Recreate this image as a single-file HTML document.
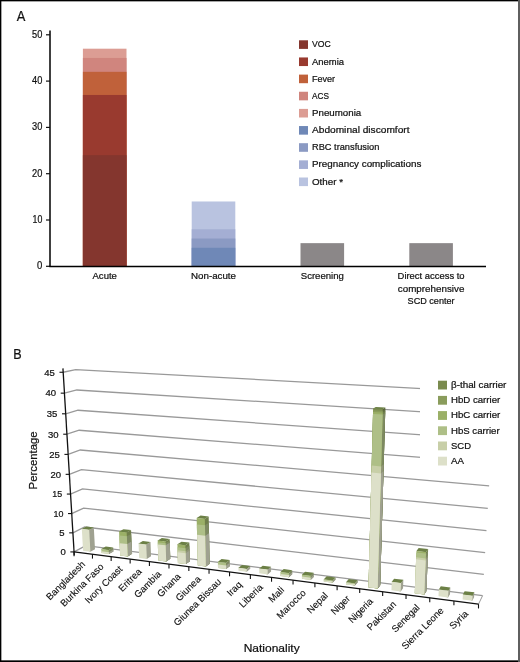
<!DOCTYPE html>
<html><head><meta charset="utf-8"><style>
html,body{margin:0;padding:0;background:#fff;}
#w{position:relative;width:520px;height:662px;overflow:hidden;background:#fff;}
svg{position:absolute;left:0;top:0;will-change:transform;}
</style></head><body><div id="w">
<svg width="520" height="662" viewBox="0 0 520 662">
<text x="16.8" y="21.1" font-size="14.3" font-family="Liberation Sans, sans-serif" stroke="#111" stroke-width="0.22" fill="#111" textLength="8.6" lengthAdjust="spacingAndGlyphs">A</text>
<line x1="50" y1="30.5" x2="50" y2="266.3" stroke="#000" stroke-width="1.5"/>
<line x1="46" y1="266.30" x2="50" y2="266.30" stroke="#111" stroke-width="1.2"/>
<text x="42.4" y="269.35" font-size="10.2" font-family="Liberation Sans, sans-serif" stroke="#111" stroke-width="0.22" fill="#111" text-anchor="end" textLength="5.3" lengthAdjust="spacingAndGlyphs">0</text>
<line x1="46" y1="220.00" x2="50" y2="220.00" stroke="#111" stroke-width="1.2"/>
<text x="42.4" y="223.05" font-size="10.2" font-family="Liberation Sans, sans-serif" stroke="#111" stroke-width="0.22" fill="#111" text-anchor="end" textLength="9.8" lengthAdjust="spacingAndGlyphs">10</text>
<line x1="46" y1="173.70" x2="50" y2="173.70" stroke="#111" stroke-width="1.2"/>
<text x="42.4" y="176.75" font-size="10.2" font-family="Liberation Sans, sans-serif" stroke="#111" stroke-width="0.22" fill="#111" text-anchor="end" textLength="10.3" lengthAdjust="spacingAndGlyphs">20</text>
<line x1="46" y1="127.40" x2="50" y2="127.40" stroke="#111" stroke-width="1.2"/>
<text x="42.4" y="130.45" font-size="10.2" font-family="Liberation Sans, sans-serif" stroke="#111" stroke-width="0.22" fill="#111" text-anchor="end" textLength="10.3" lengthAdjust="spacingAndGlyphs">30</text>
<line x1="46" y1="81.10" x2="50" y2="81.10" stroke="#111" stroke-width="1.2"/>
<text x="42.4" y="84.15" font-size="10.2" font-family="Liberation Sans, sans-serif" stroke="#111" stroke-width="0.22" fill="#111" text-anchor="end" textLength="10.3" lengthAdjust="spacingAndGlyphs">40</text>
<line x1="46" y1="34.80" x2="50" y2="34.80" stroke="#111" stroke-width="1.2"/>
<text x="42.4" y="37.85" font-size="10.2" font-family="Liberation Sans, sans-serif" stroke="#111" stroke-width="0.22" fill="#111" text-anchor="end" textLength="10.3" lengthAdjust="spacingAndGlyphs">50</text>
<rect x="82.90" y="48.69" width="43.6" height="217.61" fill="#dc9d94"/>
<rect x="82.90" y="57.95" width="43.6" height="208.35" fill="#d0857e"/>
<rect x="82.90" y="71.84" width="43.6" height="194.46" fill="#c0613a"/>
<rect x="82.90" y="94.99" width="43.6" height="171.31" fill="#993a2f"/>
<rect x="82.90" y="155.18" width="43.6" height="111.12" fill="#84362e"/>
<rect x="191.70" y="201.48" width="43.6" height="64.82" fill="#b9c3e0"/>
<rect x="191.70" y="229.26" width="43.6" height="37.04" fill="#a4aed3"/>
<rect x="191.70" y="238.52" width="43.6" height="27.78" fill="#8b9ac3"/>
<rect x="191.70" y="247.78" width="43.6" height="18.52" fill="#6f88b7"/>
<rect x="300.50" y="243.15" width="43.6" height="23.15" fill="#8b8788"/>
<rect x="409.30" y="243.15" width="43.6" height="23.15" fill="#8b8788"/>
<line x1="49.3" y1="266.40000000000003" x2="486" y2="266.40000000000003" stroke="#000" stroke-width="1.5"/>
<text x="104.70" y="279.45" font-size="9.5" font-family="Liberation Sans, sans-serif" stroke="#111" stroke-width="0.22" fill="#111" text-anchor="middle" textLength="24.4" lengthAdjust="spacingAndGlyphs">Acute</text>
<text x="213.50" y="279.45" font-size="9.5" font-family="Liberation Sans, sans-serif" stroke="#111" stroke-width="0.22" fill="#111" text-anchor="middle" textLength="45" lengthAdjust="spacingAndGlyphs">Non-acute</text>
<text x="322.30" y="279.45" font-size="9.5" font-family="Liberation Sans, sans-serif" stroke="#111" stroke-width="0.22" fill="#111" text-anchor="middle" textLength="43.1" lengthAdjust="spacingAndGlyphs">Screening</text>
<text x="431.10" y="279.45" font-size="9.5" font-family="Liberation Sans, sans-serif" stroke="#111" stroke-width="0.22" fill="#111" text-anchor="middle" textLength="67" lengthAdjust="spacingAndGlyphs">Direct access to</text>
<text x="431.10" y="291.95" font-size="9.5" font-family="Liberation Sans, sans-serif" stroke="#111" stroke-width="0.22" fill="#111" text-anchor="middle" textLength="66.5" lengthAdjust="spacingAndGlyphs">comprehensive</text>
<text x="431.10" y="304.45" font-size="9.5" font-family="Liberation Sans, sans-serif" stroke="#111" stroke-width="0.22" fill="#111" text-anchor="middle" textLength="47" lengthAdjust="spacingAndGlyphs">SCD center</text>
<rect x="299" y="40.30" width="9" height="8.6" fill="#84362e"/>
<text x="312" y="47.40" font-size="9.5" font-family="Liberation Sans, sans-serif" stroke="#111" stroke-width="0.22" fill="#111" textLength="18.7" lengthAdjust="spacingAndGlyphs">VOC</text>
<rect x="299" y="57.45" width="9" height="8.6" fill="#993a2f"/>
<text x="312" y="64.55" font-size="9.5" font-family="Liberation Sans, sans-serif" stroke="#111" stroke-width="0.22" fill="#111" textLength="32" lengthAdjust="spacingAndGlyphs">Anemia</text>
<rect x="299" y="74.60" width="9" height="8.6" fill="#c0613a"/>
<text x="312" y="81.70" font-size="9.5" font-family="Liberation Sans, sans-serif" stroke="#111" stroke-width="0.22" fill="#111" textLength="23.1" lengthAdjust="spacingAndGlyphs">Fever</text>
<rect x="299" y="91.75" width="9" height="8.6" fill="#d0857e"/>
<text x="312" y="98.85" font-size="9.5" font-family="Liberation Sans, sans-serif" stroke="#111" stroke-width="0.22" fill="#111" textLength="16.9" lengthAdjust="spacingAndGlyphs">ACS</text>
<rect x="299" y="108.90" width="9" height="8.6" fill="#dc9d94"/>
<text x="312" y="116.00" font-size="9.5" font-family="Liberation Sans, sans-serif" stroke="#111" stroke-width="0.22" fill="#111" textLength="49.2" lengthAdjust="spacingAndGlyphs">Pneumonia</text>
<rect x="299" y="126.05" width="9" height="8.6" fill="#6f88b7"/>
<text x="312" y="133.15" font-size="9.5" font-family="Liberation Sans, sans-serif" stroke="#111" stroke-width="0.22" fill="#111" textLength="97.5" lengthAdjust="spacingAndGlyphs">Abdominal discomfort</text>
<rect x="299" y="143.20" width="9" height="8.6" fill="#8b9ac3"/>
<text x="312" y="150.30" font-size="9.5" font-family="Liberation Sans, sans-serif" stroke="#111" stroke-width="0.22" fill="#111" textLength="67.3" lengthAdjust="spacingAndGlyphs">RBC transfusion</text>
<rect x="299" y="160.35" width="9" height="8.6" fill="#a4aed3"/>
<text x="312" y="167.45" font-size="9.5" font-family="Liberation Sans, sans-serif" stroke="#111" stroke-width="0.22" fill="#111" textLength="109.3" lengthAdjust="spacingAndGlyphs">Pregnancy complications</text>
<rect x="299" y="177.50" width="9" height="8.6" fill="#b9c3e0"/>
<text x="312" y="184.60" font-size="9.5" font-family="Liberation Sans, sans-serif" stroke="#111" stroke-width="0.22" fill="#111" textLength="31" lengthAdjust="spacingAndGlyphs">Other *</text>
<text x="13.2" y="358.7" font-size="13.8" font-family="Liberation Sans, sans-serif" stroke="#111" stroke-width="0.22" fill="#111" textLength="8.4" lengthAdjust="spacingAndGlyphs">B</text>
<polyline points="74.05,551.92 85.74,545.69 482.58,595.70" fill="none" stroke="#999999" stroke-width="1.3"/>
<polyline points="72.89,532.85 84.67,526.98 483.86,574.28" fill="none" stroke="#999999" stroke-width="1.3"/>
<polyline points="71.72,513.56 83.59,508.05 485.15,552.58" fill="none" stroke="#999999" stroke-width="1.3"/>
<polyline points="70.54,494.06 82.50,488.92 486.46,530.60" fill="none" stroke="#999999" stroke-width="1.3"/>
<polyline points="69.35,474.34 81.39,469.57 487.79,508.34" fill="none" stroke="#999999" stroke-width="1.3"/>
<polyline points="68.14,454.39 80.27,450.01 489.14,485.79" fill="none" stroke="#999999" stroke-width="1.3"/>
<polyline points="66.91,434.21 79.14,430.23 490.50,462.94" fill="none" stroke="#999999" stroke-width="1.3"/>
<polyline points="65.68,413.80 78.00,410.23 491.89,439.79" fill="none" stroke="#999999" stroke-width="1.3"/>
<polyline points="64.42,393.15 76.85,389.99 493.29,416.33" fill="none" stroke="#999999" stroke-width="1.3"/>
<polyline points="63.16,372.26 75.68,369.53 494.70,392.56" fill="none" stroke="#999999" stroke-width="1.3"/>
<line x1="478.50" y1="604.16" x2="482.58" y2="595.70" stroke="#999999" stroke-width="1"/>
<rect x="420" y="372" width="95" height="100" fill="#fff"/>
<polygon points="89.31,551.53 90.41,551.67 95.00,549.15 93.82,527.38 89.18,529.74 88.07,529.61" fill="#9fa190"/>
<polygon points="81.82,529.05 89.19,529.93 89.18,529.74 93.82,527.38 86.49,526.52 81.81,528.86" fill="#6c8046"/>
<polygon points="83.08,550.73 90.41,551.67 89.18,529.74 81.81,528.86" fill="#dde0c9"/>
<polygon points="107.81,553.90 108.93,554.04 113.41,551.49 113.21,547.51 108.73,550.03 107.61,549.89" fill="#7d8961"/>
<polygon points="107.81,553.90 108.93,554.04 113.41,551.49 113.31,549.59 108.83,552.13 107.71,551.99" fill="#9fa190"/>
<polygon points="101.29,549.28 108.74,550.22 108.73,550.03 113.21,547.51 105.81,546.58 101.28,549.09" fill="#6c8046"/>
<polygon points="101.49,553.09 108.93,554.04 108.73,550.03 101.28,549.09" fill="#aebf87"/>
<polygon points="101.49,553.09 108.93,554.04 108.83,552.13 101.39,551.18" fill="#dde0c9"/>
<polygon points="126.59,556.31 127.73,556.45 132.08,553.86 131.04,530.06 126.65,532.47 125.51,532.33" fill="#6f7e4a"/>
<polygon points="126.59,556.31 127.73,556.45 132.08,553.86 131.21,533.92 126.83,536.36 125.68,536.22" fill="#7d8961"/>
<polygon points="126.59,556.31 127.73,556.45 132.08,553.86 131.55,541.61 127.18,544.12 126.04,543.97" fill="#9fa190"/>
<polygon points="119.06,531.76 126.66,532.66 126.65,532.47 131.04,530.06 123.49,529.17 119.05,531.57" fill="#6c8046"/>
<polygon points="120.18,555.48 127.73,556.45 126.65,532.47 119.05,531.57" fill="#9bb067"/>
<polygon points="120.18,555.48 127.73,556.45 126.83,536.36 119.23,535.45" fill="#aebf87"/>
<polygon points="120.18,555.48 127.73,556.45 127.18,544.12 119.60,543.18" fill="#dde0c9"/>
<polygon points="145.66,558.75 146.82,558.90 151.04,556.26 150.50,542.00 146.25,544.53 145.09,544.39" fill="#9fa190"/>
<polygon points="138.56,543.78 146.26,544.72 146.25,544.53 150.50,542.00 142.85,541.08 138.55,543.58" fill="#6c8046"/>
<polygon points="139.15,557.92 146.82,558.90 146.25,544.53 138.55,543.58" fill="#dde0c9"/>
<polygon points="165.02,561.23 166.20,561.38 170.29,558.71 169.65,538.88 165.52,541.40 164.34,541.26" fill="#6f7e4a"/>
<polygon points="165.02,561.23 166.20,561.38 170.29,558.71 169.71,540.84 165.59,543.37 164.41,543.23" fill="#7d8961"/>
<polygon points="165.02,561.23 166.20,561.38 170.29,558.71 169.77,542.79 165.65,545.34 164.48,545.20" fill="#9fa190"/>
<polygon points="157.70,540.66 165.53,541.60 165.52,541.40 169.65,538.88 161.87,537.96 157.69,540.46" fill="#6c8046"/>
<polygon points="158.41,560.38 166.20,561.38 165.52,541.40 157.69,540.46" fill="#9bb067"/>
<polygon points="158.41,560.38 166.20,561.38 165.59,543.37 157.76,542.43" fill="#aebf87"/>
<polygon points="158.41,560.38 166.20,561.38 165.65,545.34 157.83,544.39" fill="#dde0c9"/>
<polygon points="184.68,563.75 185.87,563.91 189.83,561.19 189.33,542.60 185.35,545.18 184.15,545.03" fill="#6f7e4a"/>
<polygon points="184.68,563.75 185.87,563.91 189.83,561.19 189.41,545.55 185.43,548.15 184.24,548.00" fill="#7d8961"/>
<polygon points="184.68,563.75 185.87,563.91 189.83,561.19 189.50,548.69 185.52,551.31 184.33,551.16" fill="#909578"/>
<polygon points="184.68,563.75 185.87,563.91 189.83,561.19 189.55,550.65 185.58,553.28 184.38,553.14" fill="#9fa190"/>
<polygon points="177.41,544.41 185.35,545.37 185.35,545.18 189.33,542.60 181.44,541.66 177.40,544.21" fill="#6c8046"/>
<polygon points="177.97,562.89 185.87,563.91 185.35,545.18 177.40,544.21" fill="#9bb067"/>
<polygon points="177.97,562.89 185.87,563.91 185.43,548.15 177.49,547.18" fill="#aebf87"/>
<polygon points="177.97,562.89 185.87,563.91 185.52,551.31 177.58,550.33" fill="#c8cfa8"/>
<polygon points="177.97,562.89 185.87,563.91 185.58,553.28 177.64,552.30" fill="#dde0c9"/>
<polygon points="204.65,566.31 205.86,566.47 209.68,563.71 208.68,516.43 204.80,518.81 203.58,518.68" fill="#6f7e4a"/>
<polygon points="204.65,566.31 205.86,566.47 209.68,563.71 208.82,522.86 204.94,525.30 203.72,525.16" fill="#7d8961"/>
<polygon points="204.65,566.31 205.86,566.47 209.68,563.71 209.04,533.26 205.18,535.78 203.96,535.64" fill="#9fa190"/>
<polygon points="196.67,518.12 204.81,519.02 204.80,518.81 208.68,516.43 200.60,515.55 196.66,517.92" fill="#6c8046"/>
<polygon points="197.83,565.44 205.86,566.47 204.80,518.81 196.66,517.92" fill="#9bb067"/>
<polygon points="197.83,565.44 205.86,566.47 204.94,525.30 196.82,524.39" fill="#aebf87"/>
<polygon points="197.83,565.44 205.86,566.47 205.18,535.78 197.08,534.84" fill="#dde0c9"/>
<polygon points="224.93,568.91 226.15,569.07 229.83,566.27 229.73,559.94 226.05,562.69 224.82,562.54" fill="#7d8961"/>
<polygon points="224.93,568.91 226.15,569.07 229.83,566.27 229.77,562.71 226.09,565.49 224.87,565.33" fill="#9fa190"/>
<polygon points="217.88,561.87 226.05,562.89 226.05,562.69 229.73,559.94 221.62,558.93 217.88,561.67" fill="#6c8046"/>
<polygon points="218.00,568.02 226.15,569.07 226.05,562.69 217.88,561.67" fill="#aebf87"/>
<polygon points="218.00,568.02 226.15,569.07 226.09,565.49 217.93,564.45" fill="#dde0c9"/>
<polygon points="245.52,571.55 246.77,571.71 250.29,568.86 250.27,566.08 246.74,568.91 245.49,568.75" fill="#9fa190"/>
<polygon points="238.45,568.05 246.74,569.11 246.74,568.91 250.27,566.08 242.04,565.04 238.45,567.85" fill="#6c8046"/>
<polygon points="238.48,570.65 246.77,571.71 246.74,568.91 238.45,567.85" fill="#dde0c9"/>
<polygon points="266.45,574.24 267.71,574.40 271.08,571.50 271.07,566.69 267.69,569.55 266.43,569.39" fill="#9fa190"/>
<polygon points="259.27,568.69 267.70,569.75 267.69,569.55 271.07,566.69 262.70,565.65 259.26,568.48" fill="#6c8046"/>
<polygon points="259.30,573.32 267.71,574.40 267.69,569.55 259.26,568.48" fill="#dde0c9"/>
<polygon points="287.71,576.96 288.99,577.13 292.20,574.18 292.22,570.15 289.00,573.06 287.72,572.89" fill="#7d8961"/>
<polygon points="287.71,576.96 288.99,577.13 292.20,574.18 292.21,572.17 289.00,575.09 287.71,574.93" fill="#9fa190"/>
<polygon points="280.44,572.18 289.00,573.26 289.00,573.06 292.22,570.15 283.72,569.08 280.44,571.97" fill="#6c8046"/>
<polygon points="280.44,576.03 288.99,577.13 289.00,573.06 280.44,571.97" fill="#aebf87"/>
<polygon points="280.44,576.03 288.99,577.13 289.00,575.09 280.44,574.00" fill="#dde0c9"/>
<polygon points="309.31,579.73 310.62,579.90 313.66,576.91 313.70,572.84 310.65,575.80 309.35,575.63" fill="#7d8961"/>
<polygon points="309.31,579.73 310.62,579.90 313.66,576.91 313.68,574.67 310.64,577.65 309.33,577.48" fill="#9fa190"/>
<polygon points="301.95,574.90 310.65,576.01 310.65,575.80 313.70,572.84 305.06,571.76 301.95,574.70" fill="#6c8046"/>
<polygon points="301.93,578.78 310.62,579.90 310.65,575.80 301.95,574.70" fill="#aebf87"/>
<polygon points="301.93,578.78 310.62,579.90 310.64,577.65 301.94,576.54" fill="#dde0c9"/>
<polygon points="331.27,582.54 332.60,582.72 335.47,579.68 335.50,577.43 332.63,580.45 331.30,580.28" fill="#7d8961"/>
<polygon points="331.27,582.54 332.60,582.72 335.47,579.68 335.49,578.24 332.62,581.27 331.29,581.10" fill="#9fa190"/>
<polygon points="323.79,579.53 332.63,580.65 332.63,580.45 335.50,577.43 326.73,576.32 323.79,579.32" fill="#6c8046"/>
<polygon points="323.76,581.58 332.60,582.72 332.63,580.45 323.79,579.32" fill="#aebf87"/>
<polygon points="323.76,581.58 332.60,582.72 332.62,581.27 323.78,580.14" fill="#dde0c9"/>
<polygon points="353.58,585.41 354.94,585.58 357.63,582.49 357.68,580.22 354.99,583.29 353.63,583.12" fill="#7d8961"/>
<polygon points="353.58,585.41 354.94,585.58 357.63,582.49 357.66,581.05 354.97,584.12 353.62,583.95" fill="#9fa190"/>
<polygon points="346.00,582.36 354.98,583.50 354.99,583.29 357.68,580.22 348.76,579.10 346.00,582.15" fill="#6c8046"/>
<polygon points="345.96,584.43 354.94,585.58 354.99,583.29 346.00,582.15" fill="#aebf87"/>
<polygon points="345.96,584.43 354.94,585.58 354.97,584.12 345.98,582.98" fill="#dde0c9"/>
<polygon points="376.27,588.31 377.64,588.49 380.15,585.35 385.35,407.50 382.76,409.09 381.31,409.00" fill="#576438"/>
<polygon points="376.27,588.31 377.64,588.49 380.15,585.35 385.30,409.20 382.71,410.80 381.27,410.71" fill="#637042"/>
<polygon points="376.27,588.31 377.64,588.49 380.15,585.35 385.25,410.90 382.67,412.52 381.22,412.43" fill="#6f7e4a"/>
<polygon points="376.27,588.31 377.64,588.49 380.15,585.35 385.19,412.96 382.61,414.60 381.16,414.51" fill="#7d8961"/>
<polygon points="376.27,588.31 377.64,588.49 380.15,585.35 383.69,464.28 381.13,466.38 379.70,466.26" fill="#909578"/>
<polygon points="376.27,588.31 377.64,588.49 380.15,585.35 383.49,471.25 380.93,473.42 379.51,473.29" fill="#9fa190"/>
<polygon points="373.13,408.71 382.76,409.32 382.76,409.09 385.35,407.50 375.80,406.91 373.13,408.48" fill="#6c8046"/>
<polygon points="368.52,587.32 377.64,588.49 382.76,409.09 373.13,408.48" fill="#7a8b4e"/>
<polygon points="368.52,587.32 377.64,588.49 382.71,410.80 373.09,410.19" fill="#8a9c5c"/>
<polygon points="368.52,587.32 377.64,588.49 382.67,412.52 373.05,411.90" fill="#9bb067"/>
<polygon points="368.52,587.32 377.64,588.49 382.61,414.60 372.99,413.97" fill="#aebf87"/>
<polygon points="368.52,587.32 377.64,588.49 381.13,466.38 371.66,465.58" fill="#c8cfa8"/>
<polygon points="368.52,587.32 377.64,588.49 380.93,473.42 371.48,472.60" fill="#dde0c9"/>
<polygon points="399.34,591.27 400.73,591.45 403.05,588.25 403.35,579.87 401.03,583.00 399.63,582.82" fill="#9fa190"/>
<polygon points="391.72,582.05 401.02,583.21 401.03,583.00 403.35,579.87 394.12,578.73 391.73,581.83" fill="#6c8046"/>
<polygon points="391.45,590.26 400.73,591.45 401.03,583.00 391.73,581.83" fill="#dde0c9"/>
<polygon points="422.79,594.28 424.21,594.46 426.33,591.21 428.14,549.08 426.01,551.97 424.57,551.81" fill="#6f7e4a"/>
<polygon points="422.79,594.28 424.21,594.46 426.33,591.21 428.07,550.68 425.94,553.58 424.51,553.42" fill="#7d8961"/>
<polygon points="422.79,594.28 424.21,594.46 426.33,591.21 427.86,555.50 425.74,558.45 424.30,558.28" fill="#909578"/>
<polygon points="422.79,594.28 424.21,594.46 426.33,591.21 427.78,557.48 425.65,560.44 424.22,560.28" fill="#9fa190"/>
<polygon points="416.44,551.11 426.00,552.19 426.01,551.97 428.14,549.08 418.66,548.02 416.45,550.89" fill="#6c8046"/>
<polygon points="414.77,593.25 424.21,594.46 426.01,551.97 416.45,550.89" fill="#9bb067"/>
<polygon points="414.77,593.25 424.21,594.46 425.94,553.58 416.38,552.50" fill="#aebf87"/>
<polygon points="414.77,593.25 424.21,594.46 425.74,558.45 416.19,557.35" fill="#c8cfa8"/>
<polygon points="414.77,593.25 424.21,594.46 425.65,560.44 416.11,559.34" fill="#dde0c9"/>
<polygon points="446.64,597.34 448.09,597.52 450.00,594.21 450.34,587.41 448.43,590.66 446.98,590.48" fill="#9fa190"/>
<polygon points="438.80,589.66 448.42,590.87 448.43,590.66 450.34,587.41 440.80,586.22 438.81,589.45" fill="#6c8046"/>
<polygon points="438.49,596.29 448.09,597.52 448.43,590.66 438.81,589.45" fill="#dde0c9"/>
<polygon points="470.90,600.45 472.37,600.63 474.07,597.27 474.35,592.35 472.66,595.67 471.18,595.48" fill="#9fa190"/>
<polygon points="462.86,594.65 472.64,595.88 472.66,595.67 474.35,592.35 464.66,591.13 462.88,594.43" fill="#6c8046"/>
<polygon points="462.61,599.38 472.37,600.63 472.66,595.67 462.88,594.43" fill="#dde0c9"/>
<line x1="62.95" y1="368.39" x2="74.26" y2="555.33" stroke="#111" stroke-width="1.3"/>
<line x1="74.05" y1="551.92" x2="478.50" y2="604.16" stroke="#111" stroke-width="1.3"/>
<line x1="74.05" y1="551.92" x2="74.05" y2="556.22" stroke="#111" stroke-width="1.1"/>
<line x1="92.47" y1="554.30" x2="92.47" y2="558.60" stroke="#111" stroke-width="1.1"/>
<line x1="111.16" y1="556.71" x2="111.16" y2="561.01" stroke="#111" stroke-width="1.1"/>
<line x1="130.14" y1="559.17" x2="130.14" y2="563.47" stroke="#111" stroke-width="1.1"/>
<line x1="149.41" y1="561.65" x2="149.41" y2="565.95" stroke="#111" stroke-width="1.1"/>
<line x1="168.98" y1="564.18" x2="168.98" y2="568.48" stroke="#111" stroke-width="1.1"/>
<line x1="188.85" y1="566.75" x2="188.85" y2="571.05" stroke="#111" stroke-width="1.1"/>
<line x1="209.04" y1="569.36" x2="209.04" y2="573.66" stroke="#111" stroke-width="1.1"/>
<line x1="229.54" y1="572.00" x2="229.54" y2="576.30" stroke="#111" stroke-width="1.1"/>
<line x1="250.37" y1="574.69" x2="250.37" y2="578.99" stroke="#111" stroke-width="1.1"/>
<line x1="271.53" y1="577.43" x2="271.53" y2="581.73" stroke="#111" stroke-width="1.1"/>
<line x1="293.04" y1="580.20" x2="293.04" y2="584.50" stroke="#111" stroke-width="1.1"/>
<line x1="314.90" y1="583.03" x2="314.90" y2="587.33" stroke="#111" stroke-width="1.1"/>
<line x1="337.11" y1="585.90" x2="337.11" y2="590.20" stroke="#111" stroke-width="1.1"/>
<line x1="359.70" y1="588.81" x2="359.70" y2="593.11" stroke="#111" stroke-width="1.1"/>
<line x1="382.66" y1="591.78" x2="382.66" y2="596.08" stroke="#111" stroke-width="1.1"/>
<line x1="406.02" y1="594.80" x2="406.02" y2="599.10" stroke="#111" stroke-width="1.1"/>
<line x1="429.76" y1="597.86" x2="429.76" y2="602.16" stroke="#111" stroke-width="1.1"/>
<line x1="453.92" y1="600.98" x2="453.92" y2="605.28" stroke="#111" stroke-width="1.1"/>
<line x1="478.50" y1="604.16" x2="478.50" y2="608.46" stroke="#111" stroke-width="1.1"/>
<line x1="70.35" y1="551.92" x2="74.05" y2="551.92" stroke="#111" stroke-width="1.1"/>
<text x="65.75" y="555.22" font-size="9.3" font-family="Liberation Sans, sans-serif" stroke="#111" stroke-width="0.22" fill="#111" text-anchor="end" textLength="5.3" lengthAdjust="spacingAndGlyphs">0</text>
<line x1="69.19" y1="532.85" x2="72.89" y2="532.85" stroke="#111" stroke-width="1.1"/>
<text x="64.59" y="536.15" font-size="9.3" font-family="Liberation Sans, sans-serif" stroke="#111" stroke-width="0.22" fill="#111" text-anchor="end" textLength="5.3" lengthAdjust="spacingAndGlyphs">5</text>
<line x1="68.02" y1="513.56" x2="71.72" y2="513.56" stroke="#111" stroke-width="1.1"/>
<text x="63.42" y="516.86" font-size="9.3" font-family="Liberation Sans, sans-serif" stroke="#111" stroke-width="0.22" fill="#111" text-anchor="end" textLength="9.9" lengthAdjust="spacingAndGlyphs">10</text>
<line x1="66.84" y1="494.06" x2="70.54" y2="494.06" stroke="#111" stroke-width="1.1"/>
<text x="62.24" y="497.36" font-size="9.3" font-family="Liberation Sans, sans-serif" stroke="#111" stroke-width="0.22" fill="#111" text-anchor="end" textLength="9.9" lengthAdjust="spacingAndGlyphs">15</text>
<line x1="65.65" y1="474.34" x2="69.35" y2="474.34" stroke="#111" stroke-width="1.1"/>
<text x="61.05" y="477.64" font-size="9.3" font-family="Liberation Sans, sans-serif" stroke="#111" stroke-width="0.22" fill="#111" text-anchor="end" textLength="10.6" lengthAdjust="spacingAndGlyphs">20</text>
<line x1="64.44" y1="454.39" x2="68.14" y2="454.39" stroke="#111" stroke-width="1.1"/>
<text x="59.84" y="457.69" font-size="9.3" font-family="Liberation Sans, sans-serif" stroke="#111" stroke-width="0.22" fill="#111" text-anchor="end" textLength="10.6" lengthAdjust="spacingAndGlyphs">25</text>
<line x1="63.21" y1="434.21" x2="66.91" y2="434.21" stroke="#111" stroke-width="1.1"/>
<text x="58.61" y="437.51" font-size="9.3" font-family="Liberation Sans, sans-serif" stroke="#111" stroke-width="0.22" fill="#111" text-anchor="end" textLength="10.6" lengthAdjust="spacingAndGlyphs">30</text>
<line x1="61.98" y1="413.80" x2="65.68" y2="413.80" stroke="#111" stroke-width="1.1"/>
<text x="57.38" y="417.10" font-size="9.3" font-family="Liberation Sans, sans-serif" stroke="#111" stroke-width="0.22" fill="#111" text-anchor="end" textLength="10.6" lengthAdjust="spacingAndGlyphs">35</text>
<line x1="60.72" y1="393.15" x2="64.42" y2="393.15" stroke="#111" stroke-width="1.1"/>
<text x="56.12" y="396.45" font-size="9.3" font-family="Liberation Sans, sans-serif" stroke="#111" stroke-width="0.22" fill="#111" text-anchor="end" textLength="10.6" lengthAdjust="spacingAndGlyphs">40</text>
<line x1="59.46" y1="372.26" x2="63.16" y2="372.26" stroke="#111" stroke-width="1.1"/>
<text x="54.86" y="375.56" font-size="9.3" font-family="Liberation Sans, sans-serif" stroke="#111" stroke-width="0.22" fill="#111" text-anchor="end" textLength="10.6" lengthAdjust="spacingAndGlyphs">45</text>
<rect x="438" y="380.70" width="9" height="8.8" fill="#7a8b4e"/>
<text x="451" y="387.95" font-size="9.6" font-family="Liberation Sans, sans-serif" stroke="#111" stroke-width="0.22" fill="#111" textLength="55.4" lengthAdjust="spacingAndGlyphs">β-thal carrier</text>
<rect x="438" y="395.90" width="9" height="8.8" fill="#8a9c5c"/>
<text x="451" y="403.15" font-size="9.6" font-family="Liberation Sans, sans-serif" stroke="#111" stroke-width="0.22" fill="#111" textLength="49.2" lengthAdjust="spacingAndGlyphs">HbD carrier</text>
<rect x="438" y="411.10" width="9" height="8.8" fill="#9bb067"/>
<text x="451" y="418.35" font-size="9.6" font-family="Liberation Sans, sans-serif" stroke="#111" stroke-width="0.22" fill="#111" textLength="49.2" lengthAdjust="spacingAndGlyphs">HbC carrier</text>
<rect x="438" y="426.30" width="9" height="8.8" fill="#aebf87"/>
<text x="451" y="433.55" font-size="9.6" font-family="Liberation Sans, sans-serif" stroke="#111" stroke-width="0.22" fill="#111" textLength="48.6" lengthAdjust="spacingAndGlyphs">HbS carrier</text>
<rect x="438" y="441.50" width="9" height="8.8" fill="#c8cfa8"/>
<text x="451" y="448.75" font-size="9.6" font-family="Liberation Sans, sans-serif" stroke="#111" stroke-width="0.22" fill="#111" textLength="20" lengthAdjust="spacingAndGlyphs">SCD</text>
<rect x="438" y="456.70" width="9" height="8.8" fill="#dde0c9"/>
<text x="451" y="463.95" font-size="9.6" font-family="Liberation Sans, sans-serif" stroke="#111" stroke-width="0.22" fill="#111" textLength="13" lengthAdjust="spacingAndGlyphs">AA</text>
<text transform="translate(85.72,564.91) rotate(-45)" font-size="9.6" font-family="Liberation Sans, sans-serif" stroke="#111" stroke-width="0.12" fill="#111" text-anchor="end">Bangladesh</text>
<text transform="translate(104.28,567.30) rotate(-45)" font-size="9.6" font-family="Liberation Sans, sans-serif" stroke="#111" stroke-width="0.12" fill="#111" text-anchor="end">Burkina Faso</text>
<text transform="translate(123.12,569.74) rotate(-45)" font-size="9.6" font-family="Liberation Sans, sans-serif" stroke="#111" stroke-width="0.12" fill="#111" text-anchor="end">Ivory Coast</text>
<text transform="translate(142.24,572.21) rotate(-45)" font-size="9.6" font-family="Liberation Sans, sans-serif" stroke="#111" stroke-width="0.12" fill="#111" text-anchor="end">Eritrea</text>
<text transform="translate(161.66,574.71) rotate(-45)" font-size="9.6" font-family="Liberation Sans, sans-serif" stroke="#111" stroke-width="0.12" fill="#111" text-anchor="end">Gambia</text>
<text transform="translate(181.38,577.26) rotate(-45)" font-size="9.6" font-family="Liberation Sans, sans-serif" stroke="#111" stroke-width="0.12" fill="#111" text-anchor="end">Ghana</text>
<text transform="translate(201.40,579.85) rotate(-45)" font-size="9.6" font-family="Liberation Sans, sans-serif" stroke="#111" stroke-width="0.12" fill="#111" text-anchor="end">Giunea</text>
<text transform="translate(221.75,582.47) rotate(-45)" font-size="9.6" font-family="Liberation Sans, sans-serif" stroke="#111" stroke-width="0.12" fill="#111" text-anchor="end">Giunea Bissau</text>
<text transform="translate(242.41,585.14) rotate(-45)" font-size="9.6" font-family="Liberation Sans, sans-serif" stroke="#111" stroke-width="0.12" fill="#111" text-anchor="end">Iraq</text>
<text transform="translate(263.41,587.85) rotate(-45)" font-size="9.6" font-family="Liberation Sans, sans-serif" stroke="#111" stroke-width="0.12" fill="#111" text-anchor="end">Liberia</text>
<text transform="translate(284.74,590.61) rotate(-45)" font-size="9.6" font-family="Liberation Sans, sans-serif" stroke="#111" stroke-width="0.12" fill="#111" text-anchor="end">Mali</text>
<text transform="translate(306.42,593.41) rotate(-45)" font-size="9.6" font-family="Liberation Sans, sans-serif" stroke="#111" stroke-width="0.12" fill="#111" text-anchor="end">Marocco</text>
<text transform="translate(328.46,596.26) rotate(-45)" font-size="9.6" font-family="Liberation Sans, sans-serif" stroke="#111" stroke-width="0.12" fill="#111" text-anchor="end">Nepal</text>
<text transform="translate(350.86,599.15) rotate(-45)" font-size="9.6" font-family="Liberation Sans, sans-serif" stroke="#111" stroke-width="0.12" fill="#111" text-anchor="end">Niger</text>
<text transform="translate(373.63,602.09) rotate(-45)" font-size="9.6" font-family="Liberation Sans, sans-serif" stroke="#111" stroke-width="0.12" fill="#111" text-anchor="end">Nigeria</text>
<text transform="translate(396.79,605.08) rotate(-45)" font-size="9.6" font-family="Liberation Sans, sans-serif" stroke="#111" stroke-width="0.12" fill="#111" text-anchor="end">Pakistan</text>
<text transform="translate(420.34,608.12) rotate(-45)" font-size="9.6" font-family="Liberation Sans, sans-serif" stroke="#111" stroke-width="0.12" fill="#111" text-anchor="end">Senegal</text>
<text transform="translate(444.29,611.22) rotate(-45)" font-size="9.6" font-family="Liberation Sans, sans-serif" stroke="#111" stroke-width="0.12" fill="#111" text-anchor="end">Sierra Leone</text>
<text transform="translate(468.66,614.36) rotate(-45)" font-size="9.6" font-family="Liberation Sans, sans-serif" stroke="#111" stroke-width="0.12" fill="#111" text-anchor="end">Syria</text>
<text transform="translate(37.3,489.4) rotate(-90)" font-size="11.3" font-family="Liberation Sans, sans-serif" stroke="#111" stroke-width="0.22" fill="#111" textLength="58" lengthAdjust="spacingAndGlyphs">Percentage</text>
<text x="243.7" y="651.8" font-size="11.5" font-family="Liberation Sans, sans-serif" stroke="#111" stroke-width="0.22" fill="#111" textLength="56" lengthAdjust="spacingAndGlyphs">Nationality</text>
<rect x="0" y="0" width="520" height="1.35" fill="#000"/>
<rect x="0" y="0" width="1.35" height="662" fill="#000"/>
<rect x="518" y="0" width="2" height="662" fill="#5f5f5f"/>
<rect x="0" y="660.35" width="518" height="1.65" fill="#000"/>
</svg></div></body></html>
